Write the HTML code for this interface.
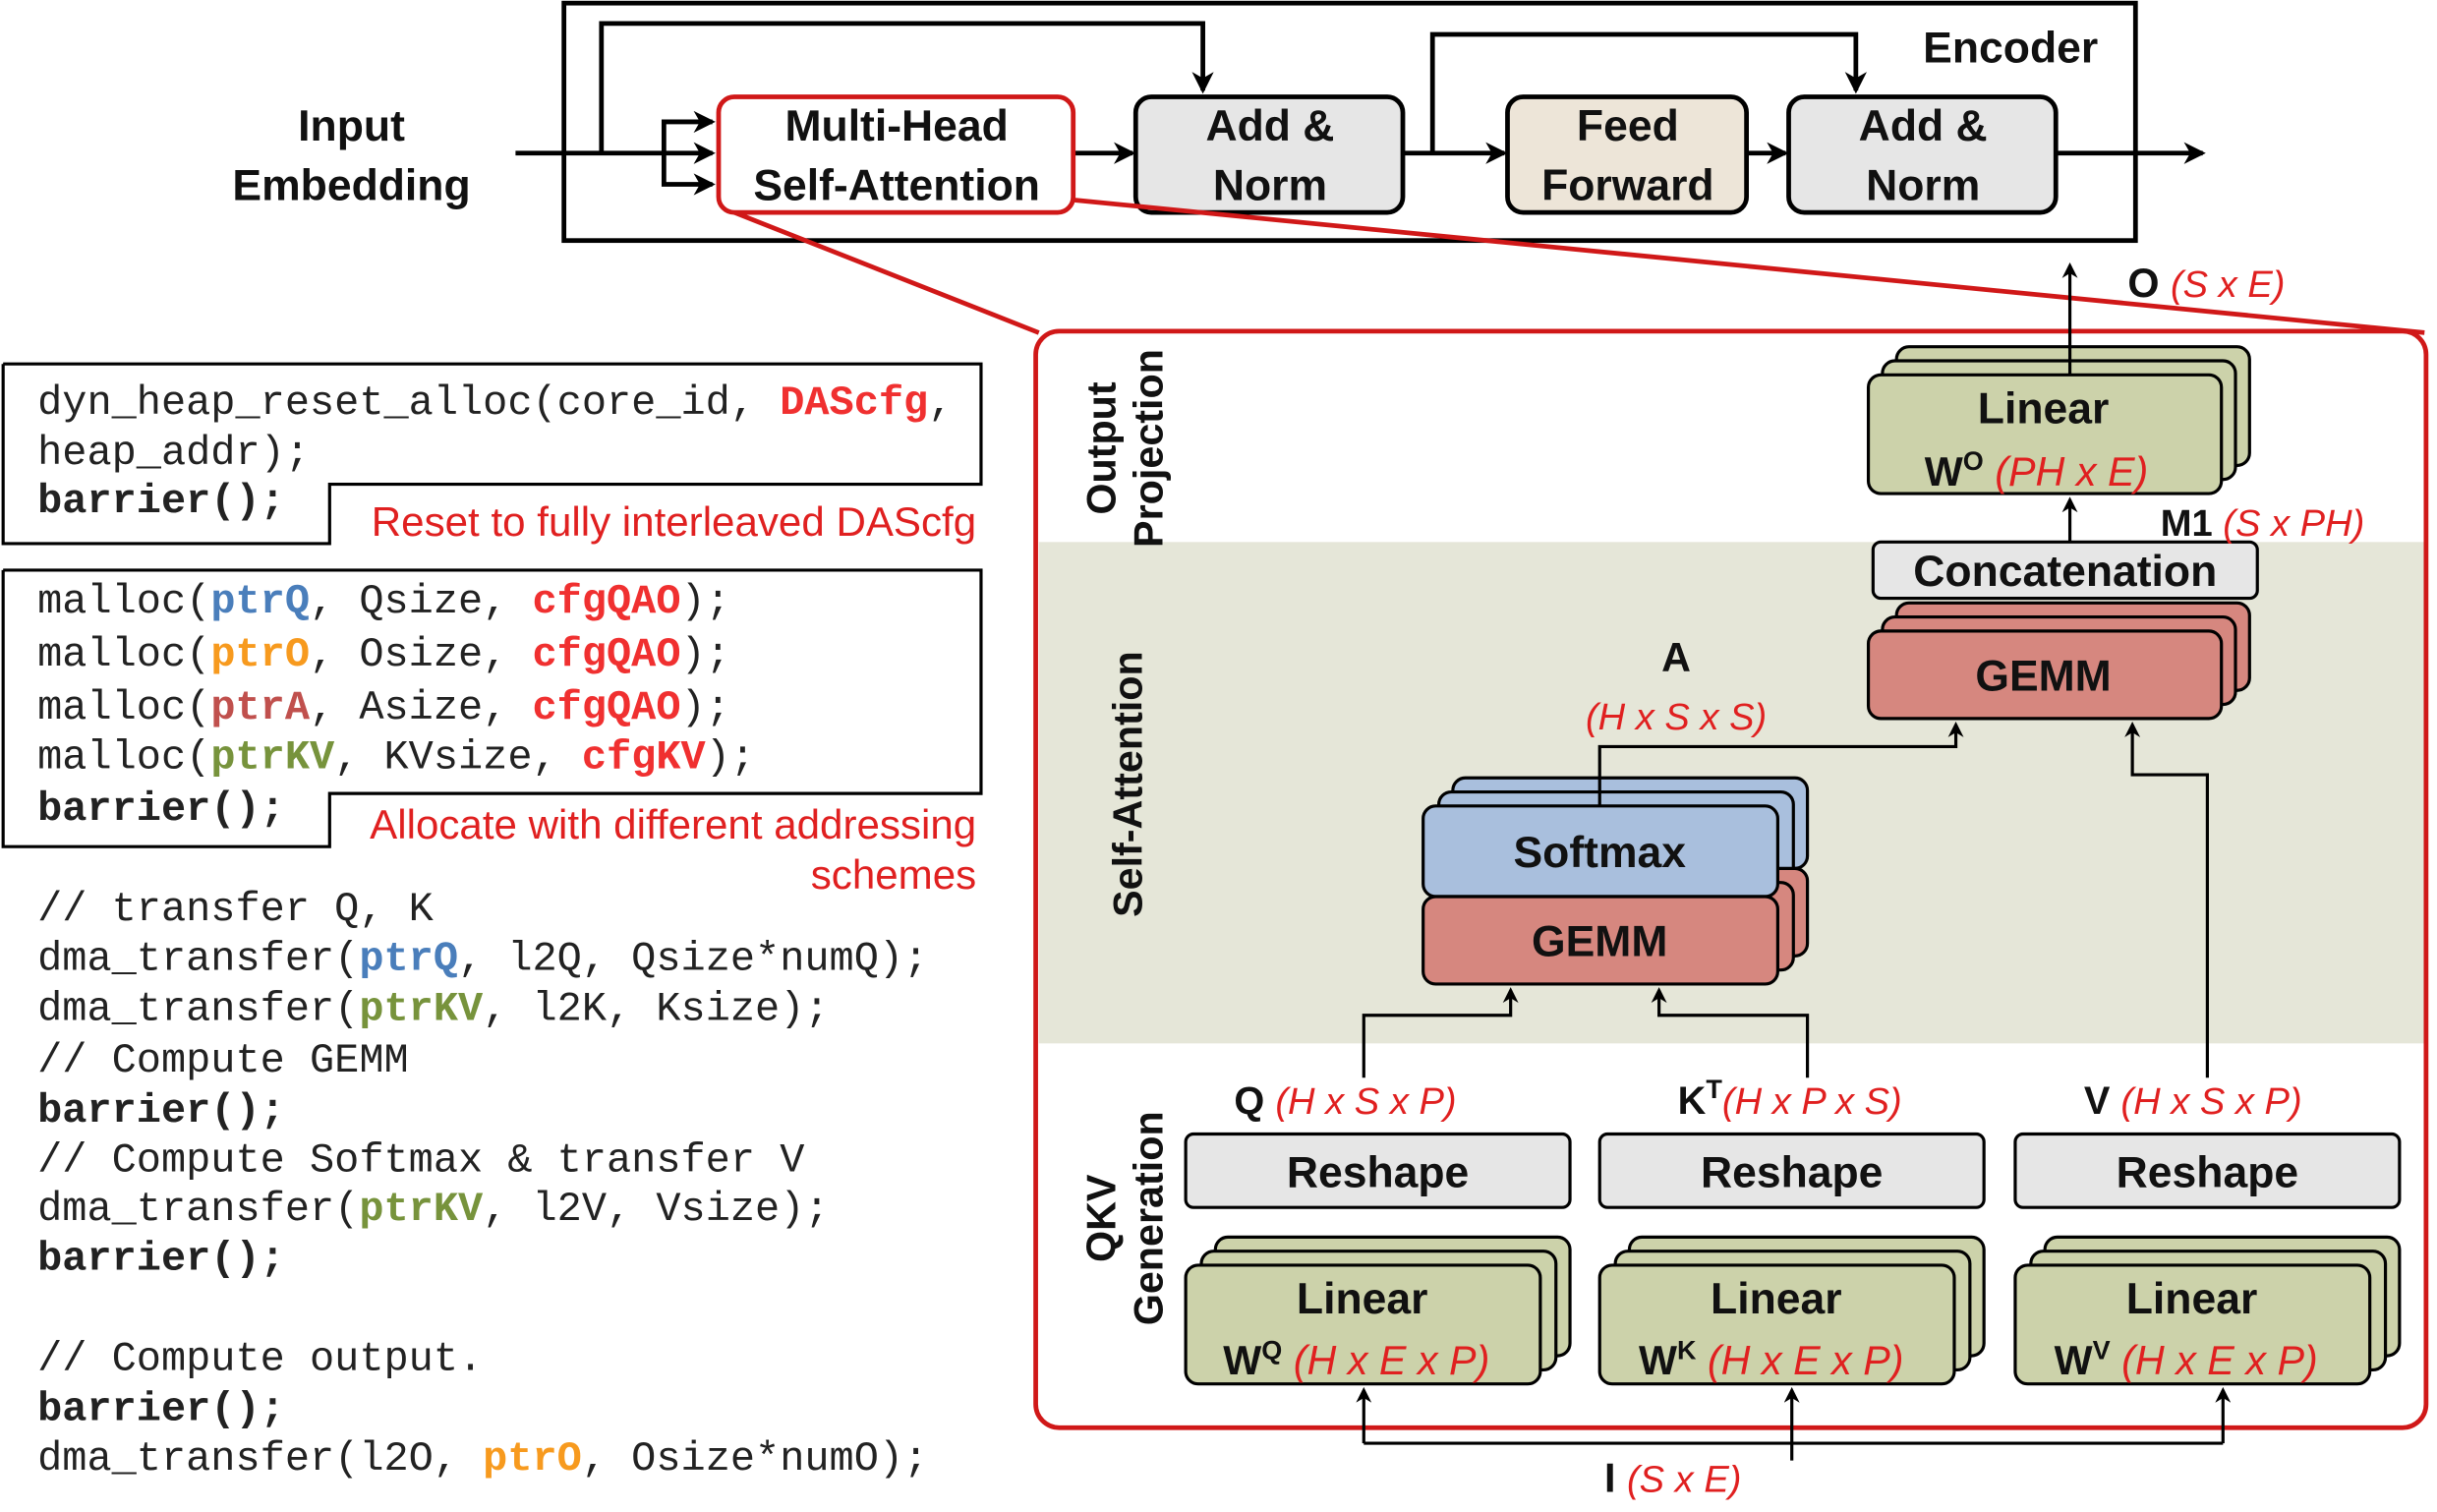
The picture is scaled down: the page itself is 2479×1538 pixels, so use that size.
<!DOCTYPE html>
<html><head><meta charset="utf-8"><style>
html,body{margin:0;padding:0;background:#fff;}
svg{display:block}
.b{font-family:"Liberation Sans",sans-serif;font-weight:bold;fill:#111}
.r{font-family:"Liberation Sans",sans-serif;font-style:italic;fill:#e02020}
.m{font-family:"Liberation Mono",monospace;font-size:26.4px;fill:#222}
.mb{font-weight:bold}
.rs{font-family:"Liberation Sans",sans-serif;fill:#e02020;font-size:26.5px}
</style></head><body>
<svg width="2479" height="1538" viewBox="0 0 1560 968" preserveAspectRatio="none" xmlns="http://www.w3.org/2000/svg">
<defs>
<marker id="a" markerWidth="10" markerHeight="10" refX="8" refY="5" orient="auto" markerUnits="userSpaceOnUse"><path d="M0,0 L10,5 L0,10 L3,5 z" fill="#000"/></marker>
<marker id="s" markerWidth="14" markerHeight="14" refX="12" refY="7" orient="auto" markerUnits="userSpaceOnUse"><path d="M0,0 L14,7 L0,14 L4,7 z" fill="#000"/></marker>
</defs>
<rect x="361" y="2" width="1006" height="152" fill="#fff" stroke="#000" stroke-width="3"/>
<text class="b" x="1287" y="40" font-size="28" text-anchor="middle">Encoder</text>
<text class="b" x="225" y="90" font-size="28" text-anchor="middle">Input</text>
<text class="b" x="225" y="128" font-size="28" text-anchor="middle">Embedding</text>
<g stroke="#000" stroke-width="3" fill="none">
<line x1="330" y1="98" x2="456" y2="98" marker-end="url(#s)"/>
<polyline points="385,98 385,15 770,15 770,58" marker-end="url(#s)"/>
<polyline points="425,98 425,78 456,78" marker-end="url(#s)"/>
<polyline points="425,98 425,118 456,118" marker-end="url(#s)"/>
<line x1="687" y1="98" x2="725" y2="98" marker-end="url(#s)"/>
<line x1="898" y1="98" x2="963" y2="98" marker-end="url(#s)"/>
<polyline points="917,98 917,22 1188,22 1188,58" marker-end="url(#s)"/>
<line x1="1118" y1="98" x2="1143" y2="98" marker-end="url(#s)"/>
<line x1="1316" y1="98" x2="1410" y2="98" marker-end="url(#s)"/>
</g>
<rect x="460" y="62" width="227" height="74" rx="10" fill="#fff" stroke="#d01818" stroke-width="3"/>
<text class="b" x="574" y="90" font-size="28" text-anchor="middle">Multi-Head</text>
<text class="b" x="574" y="128" font-size="28" text-anchor="middle">Self-Attention</text>
<rect x="727" y="62" width="171" height="74" rx="10" fill="#e6e6e6" stroke="#000" stroke-width="3"/>
<text class="b" x="813" y="90" font-size="28" text-anchor="middle">Add &amp;</text>
<text class="b" x="813" y="128" font-size="28" text-anchor="middle">Norm</text>
<rect x="965" y="62" width="153" height="74" rx="10" fill="#ede5d8" stroke="#000" stroke-width="3"/>
<text class="b" x="1042" y="90" font-size="28" text-anchor="middle">Feed</text>
<text class="b" x="1042" y="128" font-size="28" text-anchor="middle">Forward</text>
<rect x="1145" y="62" width="171" height="74" rx="10" fill="#e6e6e6" stroke="#000" stroke-width="3"/>
<text class="b" x="1231" y="90" font-size="28" text-anchor="middle">Add &amp;</text>
<text class="b" x="1231" y="128" font-size="28" text-anchor="middle">Norm</text>
<line x1="470" y1="136" x2="665" y2="213" stroke="#d01818" stroke-width="3"/>
<line x1="687" y1="128" x2="1552" y2="213" stroke="#d01818" stroke-width="3"/>
<rect x="665" y="347" width="887" height="321" fill="#e5e6d8"/>
<rect x="663" y="212" width="890" height="702" rx="15" fill="none" stroke="#d01818" stroke-width="3"/>
<text class="b" font-size="26" text-anchor="middle" transform="translate(722,287) rotate(-90)"><tspan x="0" y="-8">Output</tspan><tspan x="0" y="22">Projection</tspan></text>
<text class="b" font-size="26" text-anchor="middle" transform="translate(731,502) rotate(-90)">Self-Attention</text>
<text class="b" font-size="26" text-anchor="middle" transform="translate(722,780) rotate(-90)"><tspan x="0" y="-8">QKV</tspan><tspan x="0" y="22">Generation</tspan></text>
<g stroke="#000" stroke-width="2">
<rect x="1214" y="222" width="226" height="76" rx="8" fill="#ccd2aa"/>
<rect x="1205" y="231" width="226" height="76" rx="8" fill="#ccd2aa"/>
<rect x="1196" y="240" width="226" height="76" rx="8" fill="#ccd2aa"/>
<rect x="1199" y="347" width="246" height="36" rx="5" fill="#e6e6e6"/>
<rect x="1214" y="386" width="226" height="56" rx="8" fill="#d6877f"/>
<rect x="1205" y="395" width="226" height="56" rx="8" fill="#d6877f"/>
<rect x="1196" y="404" width="226" height="56" rx="8" fill="#d6877f"/>
<rect x="930" y="498" width="227" height="58" rx="8" fill="#a9bfdd"/>
<rect x="921" y="507" width="227" height="58" rx="8" fill="#a9bfdd"/>
<rect x="930" y="556" width="227" height="56" rx="8" fill="#d6877f"/>
<rect x="921" y="565" width="227" height="56" rx="8" fill="#d6877f"/>
<rect x="911" y="516" width="227" height="58" rx="8" fill="#a9bfdd"/>
<rect x="911" y="574" width="227" height="56" rx="8" fill="#d6877f"/>
<rect x="759" y="726" width="246" height="47" rx="5" fill="#e6e6e6"/>
<rect x="1024" y="726" width="246" height="47" rx="5" fill="#e6e6e6"/>
<rect x="1290" y="726" width="246" height="47" rx="5" fill="#e6e6e6"/>
<rect x="778" y="792" width="227" height="76" rx="8" fill="#ccd2aa"/>
<rect x="769" y="801" width="227" height="76" rx="8" fill="#ccd2aa"/>
<rect x="759" y="810" width="227" height="76" rx="8" fill="#ccd2aa"/>
<rect x="1043" y="792" width="227" height="76" rx="8" fill="#ccd2aa"/>
<rect x="1034" y="801" width="227" height="76" rx="8" fill="#ccd2aa"/>
<rect x="1024" y="810" width="227" height="76" rx="8" fill="#ccd2aa"/>
<rect x="1309" y="792" width="227" height="76" rx="8" fill="#ccd2aa"/>
<rect x="1300" y="801" width="227" height="76" rx="8" fill="#ccd2aa"/>
<rect x="1290" y="810" width="227" height="76" rx="8" fill="#ccd2aa"/>
</g>
<text class="b" x="1308" y="271" font-size="28" text-anchor="middle">Linear</text>
<text x="1232" y="311" font-size="26"><tspan class="b">W</tspan><tspan class="b" font-size="17" dy="-10">O</tspan><tspan class="r" dy="10"> (PH x E)</tspan></text>
<text class="b" x="1322" y="375" font-size="28" text-anchor="middle">Concatenation</text>
<text class="b" x="1308" y="442" font-size="28" text-anchor="middle">GEMM</text>
<text class="b" x="1024" y="555" font-size="28" text-anchor="middle">Softmax</text>
<text class="b" x="1024" y="612" font-size="28" text-anchor="middle">GEMM</text>
<text class="b" x="1073" y="430" font-size="26" text-anchor="middle">A</text>
<text class="r" x="1073" y="467" font-size="24" text-anchor="middle">(H x S x S)</text>
<text x="1362" y="190" font-size="26"><tspan class="b">O </tspan><tspan class="r" font-size="24">(S x E)</tspan></text>
<text x="1383" y="343" font-size="24"><tspan class="b">M1 </tspan><tspan class="r">(S x PH)</tspan></text>
<text x="790" y="713" font-size="25"><tspan class="b">Q </tspan><tspan class="r" font-size="24">(H x S x P)</tspan></text>
<text x="1074" y="713" font-size="25"><tspan class="b">K</tspan><tspan class="b" font-size="17" dy="-10">T</tspan><tspan class="r" font-size="24" dy="10">(H x P x S)</tspan></text>
<text x="1334" y="713" font-size="25"><tspan class="b">V </tspan><tspan class="r" font-size="24">(H x S x P)</tspan></text>
<text class="b" x="882" y="760" font-size="28" text-anchor="middle">Reshape</text>
<text class="b" x="1147" y="760" font-size="28" text-anchor="middle">Reshape</text>
<text class="b" x="1413" y="760" font-size="28" text-anchor="middle">Reshape</text>
<text class="b" x="872" y="841" font-size="28" text-anchor="middle">Linear</text>
<text class="b" x="1137" y="841" font-size="28" text-anchor="middle">Linear</text>
<text class="b" x="1403" y="841" font-size="28" text-anchor="middle">Linear</text>
<text x="783" y="880" font-size="26"><tspan class="b">W</tspan><tspan class="b" font-size="17" dy="-10">Q</tspan><tspan class="r" dy="10"> (H x E x P)</tspan></text>
<text x="1049" y="880" font-size="26"><tspan class="b">W</tspan><tspan class="b" font-size="17" dy="-10">K</tspan><tspan class="r" dy="10"> (H x E x P)</tspan></text>
<text x="1315" y="880" font-size="26"><tspan class="b">W</tspan><tspan class="b" font-size="17" dy="-10">V</tspan><tspan class="r" dy="10"> (H x E x P)</tspan></text>
<text x="1027" y="955" font-size="26"><tspan class="b">I </tspan><tspan class="r" font-size="24">(S x E)</tspan></text>
<g stroke="#000" stroke-width="2" fill="none">
<line x1="1325" y1="240" x2="1325" y2="170" marker-end="url(#a)"/>
<line x1="1325" y1="347" x2="1325" y2="320" marker-end="url(#a)"/>
<polyline points="1024,516 1024,478 1252,478 1252,464" marker-end="url(#a)"/>
<polyline points="1413,690 1413,496 1365,496 1365,464" marker-end="url(#a)"/>
<polyline points="873,690 873,650 967,650 967,634" marker-end="url(#a)"/>
<polyline points="1157,690 1157,650 1062,650 1062,634" marker-end="url(#a)"/>
<polyline points="873,924 1423,924"/>
<line x1="873" y1="924" x2="873" y2="890" marker-end="url(#a)"/>
<line x1="1147" y1="935" x2="1147" y2="890" marker-end="url(#a)"/>
<line x1="1423" y1="924" x2="1423" y2="890" marker-end="url(#a)"/>
</g>
<g stroke="#000" stroke-width="2" fill="none">
<polyline points="2,233 628,233 628,310 211,310 211,348 2,348 2,233"/>
<polyline points="2,365 628,365 628,508 211,508 211,542 2,542 2,365"/>
</g>
<text class="m" x="24" y="265">dyn_heap_reset_alloc(core_id, <tspan class="mb" fill="#f03030">DAScfg</tspan>,</text>
<text class="m" x="24" y="297">heap_addr);</text>
<text class="m mb" x="24" y="328">barrier();</text>
<text class="rs" x="625" y="343" text-anchor="end">Reset to fully interleaved DAScfg</text>
<text class="m" x="24" y="392">malloc(<tspan class="mb" fill="#4a7ebb">ptrQ</tspan>, Qsize, <tspan class="mb" fill="#f03030">cfgQAO</tspan>);</text>
<text class="m" x="24" y="426">malloc(<tspan class="mb" fill="#f79a1e">ptrO</tspan>, Osize, <tspan class="mb" fill="#f03030">cfgQAO</tspan>);</text>
<text class="m" x="24" y="460">malloc(<tspan class="mb" fill="#c0504d">ptrA</tspan>, Asize, <tspan class="mb" fill="#f03030">cfgQAO</tspan>);</text>
<text class="m" x="24" y="492">malloc(<tspan class="mb" fill="#77933c">ptrKV</tspan>, KVsize, <tspan class="mb" fill="#f03030">cfgKV</tspan>);</text>
<text class="m mb" x="24" y="525">barrier();</text>
<text class="rs" x="625" y="537" text-anchor="end">Allocate with different addressing</text>
<text class="rs" x="625" y="569" text-anchor="end">schemes</text>
<text class="m" x="24" y="589">// transfer Q, K</text>
<text class="m" x="24" y="621">dma_transfer(<tspan class="mb" fill="#4a7ebb">ptrQ</tspan>, l2Q, Qsize*numQ);</text>
<text class="m" x="24" y="653">dma_transfer(<tspan class="mb" fill="#77933c">ptrKV</tspan>, l2K, Ksize);</text>
<text class="m" x="24" y="686">// Compute GEMM</text>
<text class="m mb" x="24" y="718">barrier();</text>
<text class="m" x="24" y="750">// Compute Softmax &amp; transfer V</text>
<text class="m" x="24" y="781">dma_transfer(<tspan class="mb" fill="#77933c">ptrKV</tspan>, l2V, Vsize);</text>
<text class="m mb" x="24" y="813">barrier();</text>
<text class="m" x="24" y="877">// Compute output.</text>
<text class="m mb" x="24" y="909">barrier();</text>
<text class="m" x="24" y="941">dma_transfer(l2O, <tspan class="mb" fill="#f79a1e">ptrO</tspan>, Osize*numO);</text>
</svg>
</body></html>
